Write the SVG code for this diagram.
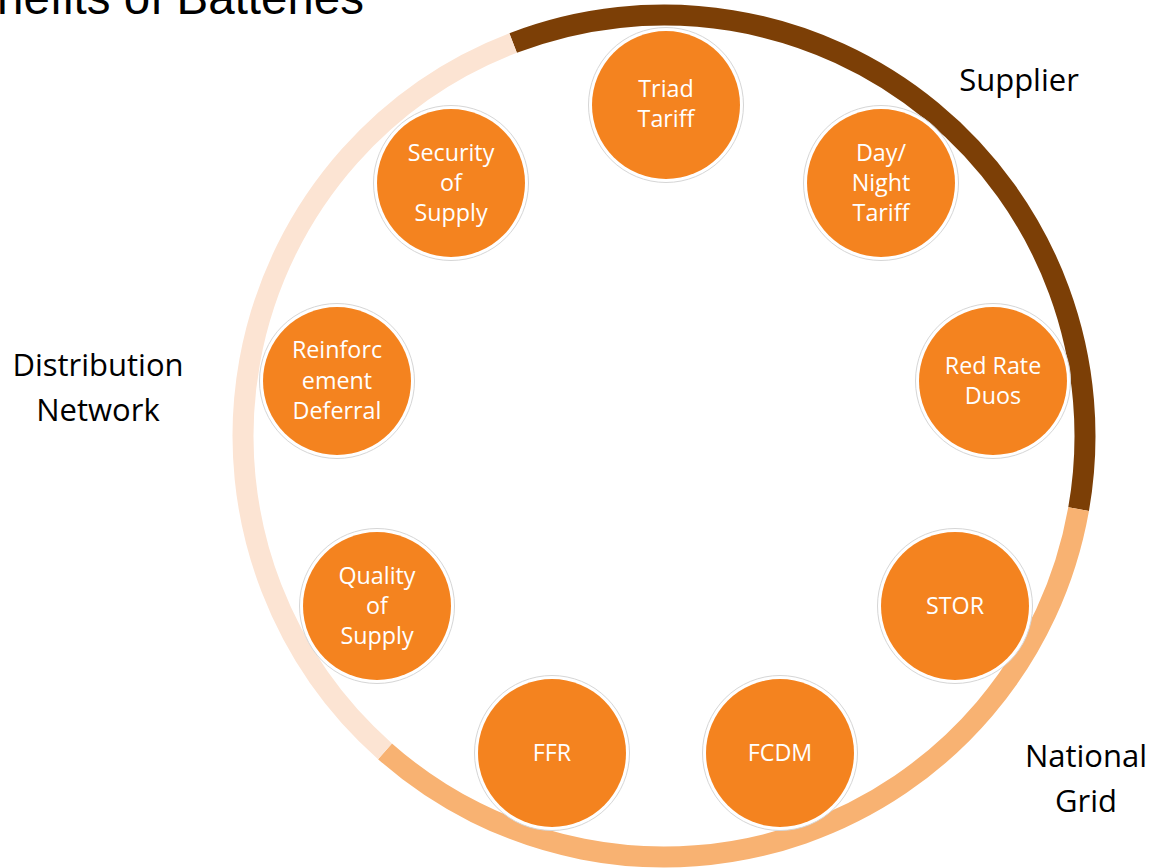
<svg xmlns="http://www.w3.org/2000/svg" width="1153" height="868" viewBox="0 0 1153 868">
<style>
.ring{fill:none;stroke-width:21;stroke-linecap:butt}
.halo{fill:#ffffff;stroke:#d6d6d6;stroke-width:1}
.disc{fill:#F4831F}
.lbl{font-family:"Open Sans","Noto Sans",sans-serif;font-size:23.3px;fill:#ffffff;text-anchor:middle}
.out{font-family:"Open Sans","Noto Sans",sans-serif;font-size:31px;fill:#000000;text-anchor:middle}
.title{font-family:"Liberation Sans",Arial,sans-serif;font-size:47.5px;fill:#000000}
</style>
<rect width="1153" height="868" fill="#ffffff"/>
<text class="title" x="-3" y="14">nefits of Batteries</text>
<g id="connectors">
<path class="ring" stroke="#7C3F06" d="M 513.1 43.0 A 421 421 0 0 1 1078.6 509.1"/>
<path class="ring" stroke="#F8B272" d="M 1078.6 509.1 A 421 421 0 0 1 385.0 751.3"/>
<path class="ring" stroke="#FCE4D3" d="M 385.0 751.3 A 421 421 0 0 1 513.1 43.0"/>
</g>
<g id="supplier-label"><text class="out" x="1019" y="91">Supplier</text></g>
<g id="distribution-label"><text class="out" x="98" y="376">Distribution</text><text class="out" x="98" y="421">Network</text></g>
<g id="national-grid-label"><text class="out" x="1086" y="767">National</text><text class="out" x="1086" y="812">Grid</text></g>
<g id="triad-tariff"><circle class="halo" cx="666" cy="105" r="77.5"/><circle class="disc" cx="666" cy="105" r="74"/><text class="lbl" x="666" y="97">Triad</text><text class="lbl" x="666" y="127">Tariff</text></g>
<g id="day-night-tariff"><circle class="halo" cx="881" cy="183" r="77.5"/><circle class="disc" cx="881" cy="183" r="74"/><text class="lbl" x="881" y="161">Day/</text><text class="lbl" x="881" y="191">Night</text><text class="lbl" x="881" y="221">Tariff</text></g>
<g id="security-of-supply"><circle class="halo" cx="451" cy="183" r="77.5"/><circle class="disc" cx="451" cy="183" r="74"/><text class="lbl" x="451" y="161">Security</text><text class="lbl" x="451" y="191">of</text><text class="lbl" x="451" y="221">Supply</text></g>
<g id="reinforcement-deferral"><circle class="halo" cx="337" cy="381" r="77.5"/><circle class="disc" cx="337" cy="381" r="74"/><text class="lbl" x="337" y="358">Reinforc</text><text class="lbl" x="337" y="389">ement</text><text class="lbl" x="337" y="419">Deferral</text></g>
<g id="red-rate-duos"><circle class="halo" cx="993" cy="381" r="77.5"/><circle class="disc" cx="993" cy="381" r="74"/><text class="lbl" x="993" y="374">Red Rate</text><text class="lbl" x="993" y="404">Duos</text></g>
<g id="quality-of-supply"><circle class="halo" cx="377" cy="606" r="77.5"/><circle class="disc" cx="377" cy="606" r="74"/><text class="lbl" x="377" y="584">Quality</text><text class="lbl" x="377" y="614">of</text><text class="lbl" x="377" y="644">Supply</text></g>
<g id="stor"><circle class="halo" cx="955" cy="606" r="77.5"/><circle class="disc" cx="955" cy="606" r="74"/><text class="lbl" x="955" y="614">STOR</text></g>
<g id="ffr"><circle class="halo" cx="552" cy="753" r="77.5"/><circle class="disc" cx="552" cy="753" r="74"/><text class="lbl" x="552" y="761">FFR</text></g>
<g id="fcdm"><circle class="halo" cx="780" cy="753" r="77.5"/><circle class="disc" cx="780" cy="753" r="74"/><text class="lbl" x="780" y="761">FCDM</text></g>
</svg>
